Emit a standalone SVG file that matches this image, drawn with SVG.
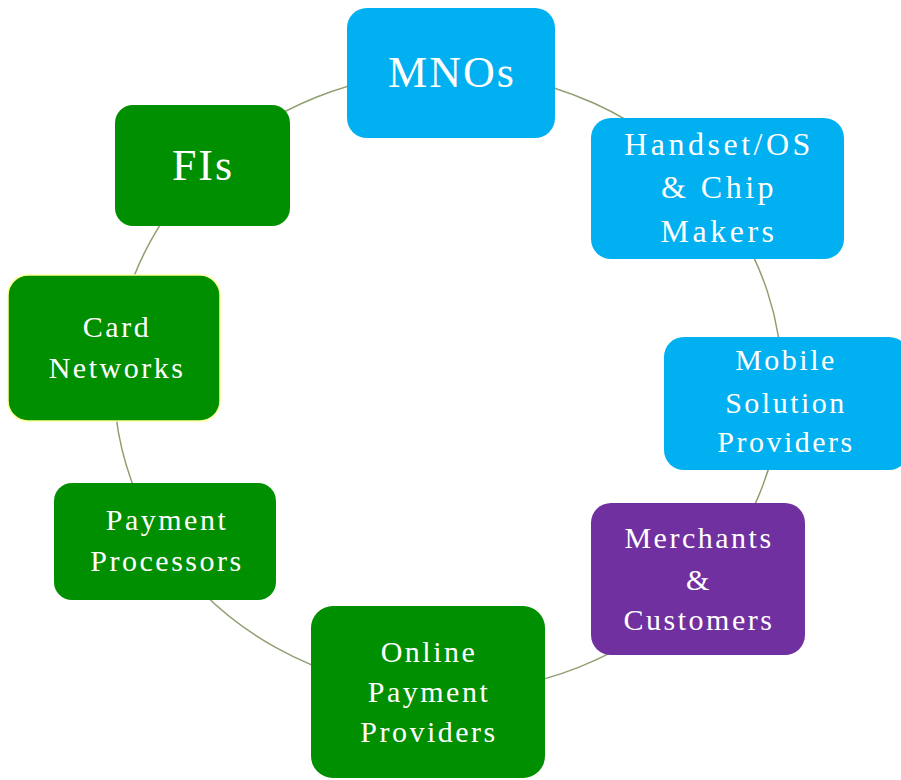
<svg xmlns="http://www.w3.org/2000/svg" width="901" height="780" viewBox="0 0 901 780">
<style>
.c{fill:none;stroke:#8fa070;stroke-width:1.5}
.blue{fill:#00b0f0}
.green{fill:#008f00}
.purple{fill:#7030a0}
text{font-family:"Liberation Serif","DejaVu Serif",serif;fill:#ffffff;text-anchor:middle;font-size:30px;letter-spacing:2.5px}
.big{font-size:44px;letter-spacing:2px}
.hs{font-size:32px;letter-spacing:3.5px}
</style>
<rect width="901" height="780" fill="#ffffff"/>
<g id="connectors">
<path class="c" d="M205.8,168.7 A334,310 0 0 1 448,72"/>
<path class="c" d="M448,72 A334,310 0 0 1 711.5,191.6"/>
<path class="c" d="M711.5,191.6 A334,310 0 0 1 781.2,403.1"/>
<path class="c" d="M781.2,403.1 A334,310 0 0 1 701.6,583.8"/>
<path class="c" d="M701.6,583.8 A334,310 0 0 1 428.3,691.4"/>
<path class="c" d="M428.3,691.4 A334,310 0 0 1 162.4,542.6"/>
<path class="c" d="M162.4,542.6 A334,310 0 0 1 116,347.6"/>
<path class="c" d="M116,347.6 A334,310 0 0 1 205.8,168.7"/>
</g>
<g id="mnos">
<rect class="blue" x="347" y="8" width="208" height="130" rx="20"/>
<text class="big" x="452" y="87">MNOs</text>
</g>
<g id="handset">
<rect class="blue" x="591" y="118" width="253" height="141" rx="20"/>
<text class="hs" x="719" y="155">Handset/OS</text>
<text class="hs" x="719" y="198">&amp; Chip</text>
<text class="hs" x="719" y="242">Makers</text>
</g>
<g id="mobile">
<rect class="blue" x="664" y="337" width="245" height="133" rx="20"/>
<text x="786" y="370">Mobile</text>
<text x="786" y="413">Solution</text>
<text x="786" y="452">Providers</text>
</g>
<g id="merchants">
<rect class="purple" x="591" y="503" width="214" height="152" rx="20"/>
<text x="699" y="548">Merchants</text>
<text x="699" y="590">&amp;</text>
<text x="699" y="630">Customers</text>
</g>
<g id="online">
<rect class="green" x="311" y="606" width="234" height="172" rx="22"/>
<text x="429" y="662">Online</text>
<text x="429" y="702">Payment</text>
<text x="429" y="742">Providers</text>
</g>
<g id="processors">
<rect class="green" x="54" y="483" width="222" height="117" rx="18"/>
<text x="167" y="530">Payment</text>
<text x="167" y="571">Processors</text>
</g>
<g id="card">
<rect class="green" x="8" y="275" width="212" height="146" rx="20" stroke="#ffff99" stroke-width="1.5"/>
<text x="117" y="337">Card</text>
<text x="117" y="378">Networks</text>
</g>
<g id="fis">
<rect class="green" x="115" y="105" width="175" height="121" rx="18"/>
<text class="big" x="203" y="180">FIs</text>
</g>
</svg>
